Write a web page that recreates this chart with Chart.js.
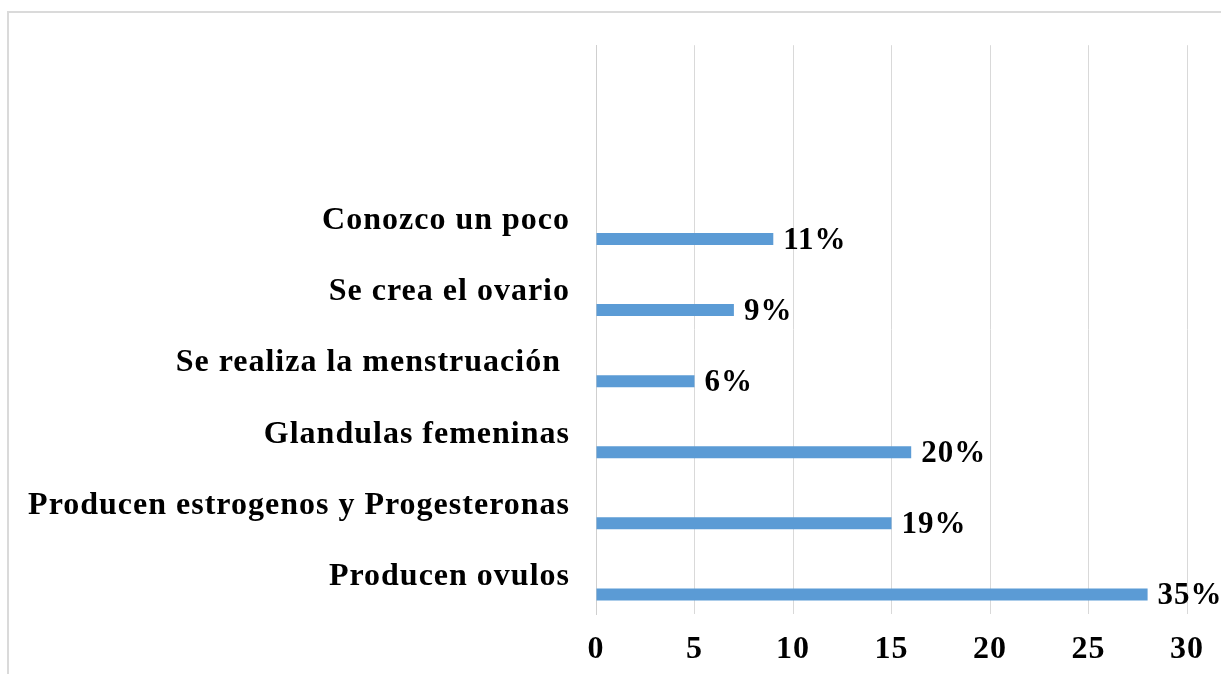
<!DOCTYPE html>
<html>
<head>
<meta charset="utf-8">
<script src="https://cdn.jsdelivr.net/npm/chart.js@4.4.1/dist/chart.umd.min.js"></script>
<style>
    html, body { margin: 0; padding: 0; background: #fff; }
    #wrap { position: relative; width: 1221px; height: 674px; overflow: hidden; }
    #frame { position: absolute; left: 7px; top: 11px; width: 1240px; height: 700px; border: 2px solid #dadada; box-sizing: border-box; }
    #chart { position: absolute; left: 0; top: 0; }
</style>
</head>
<body>
<div id="wrap">
    <div id="frame"></div>
    <canvas id="chart" width="1221" height="674"></canvas>
</div>
<script>
var categorias = ['Conozco un poco', 'Se crea el ovario', 'Se realiza la menstruación ', 'Glandulas femeninas', 'Producen estrogenos y Progesteronas', 'Producen ovulos'];
var valores = [9, 7, 5, 16, 15, 28];
var porcentajes = ['11%', '9%', '6%', '20%', '19%', '35%'];
var ticksX = [0, 5, 10, 15, 20, 25, 30];
var filasVacias = 2; // the plot area has empty room above the first bar

var fuente = '"Liberation Serif", "Times New Roman", serif';
var azul = '#5B9BD5';

var etiquetas = Array(filasVacias).fill('').concat(categorias);
var datos = Array(filasVacias).fill(null).concat(valores);
var vacio = etiquetas.map(function() { return null; });

// text in the picture is a bit wider than plain Times
var espaciado = {
    id: 'espaciado',
    beforeDraw: function(chart) {
        chart.ctx.letterSpacing = '1px';
    }
};

var etiquetasDatos = {
    id: 'etiquetasDatos',
    afterDatasetsDraw: function(chart) {
        var ctx = chart.ctx;
        var meta = chart.getDatasetMeta(1);
        ctx.save();
        ctx.font = 'bold 31px ' + fuente;
        ctx.fillStyle = '#000';
        ctx.textAlign = 'left';
        ctx.textBaseline = 'middle';
        meta.data.forEach(function(bar, i) {
            var k = i - filasVacias;
            if (k < 0) return;
            ctx.fillText(porcentajes[k], bar.x + 10, bar.y + 2);
        });
        ctx.restore();
    }
};

var ctx = document.getElementById('chart').getContext('2d');
new Chart(ctx, {
    type: 'bar',
    data: {
        labels: etiquetas,
        datasets: [{
            label: '',
            data: vacio,
            backgroundColor: 'rgba(0,0,0,0)',
            categoryPercentage: 0.9,
            barPercentage: 1
        }, {
            label: 'Serie 1',
            data: datos,
            backgroundColor: azul,
            categoryPercentage: 0.9,
            barPercentage: 1,
            maxBarThickness: 12
        }]
    },
    options: {
        indexAxis: 'y',
        responsive: false,
        animation: false,
        layout: {
            padding: { top: 43, left: 10, right: 34, bottom: 0 }
        },
        plugins: {
            legend: { display: false },
            tooltip: { enabled: false },
            title: { display: false }
        },
        scales: {
            x: {
                type: 'linear',
                min: ticksX[0],
                max: ticksX[ticksX.length - 1],
                ticks: {
                    stepSize: ticksX[1] - ticksX[0],
                    color: '#000',
                    padding: 17,
                    font: { family: fuente, size: 32, weight: 'bold' }
                },
                grid: { color: '#d9d9d9', lineWidth: 1, drawTicks: false },
                border: { display: false },
                afterFit: function(scale) { scale.height = 60; }
            },
            y: {
                ticks: {
                    color: '#000',
                    padding: 26,
                    labelOffset: -2,
                    font: { family: fuente, size: 32, weight: 'bold' }
                },
                grid: { display: false, drawTicks: false },
                border: { display: true, color: '#cfcfcf', width: 1 },
                afterFit: function(scale) { scale.width = 586; }
            }
        }
    },
    plugins: [espaciado, etiquetasDatos]
});
</script>
</body>
</html>
